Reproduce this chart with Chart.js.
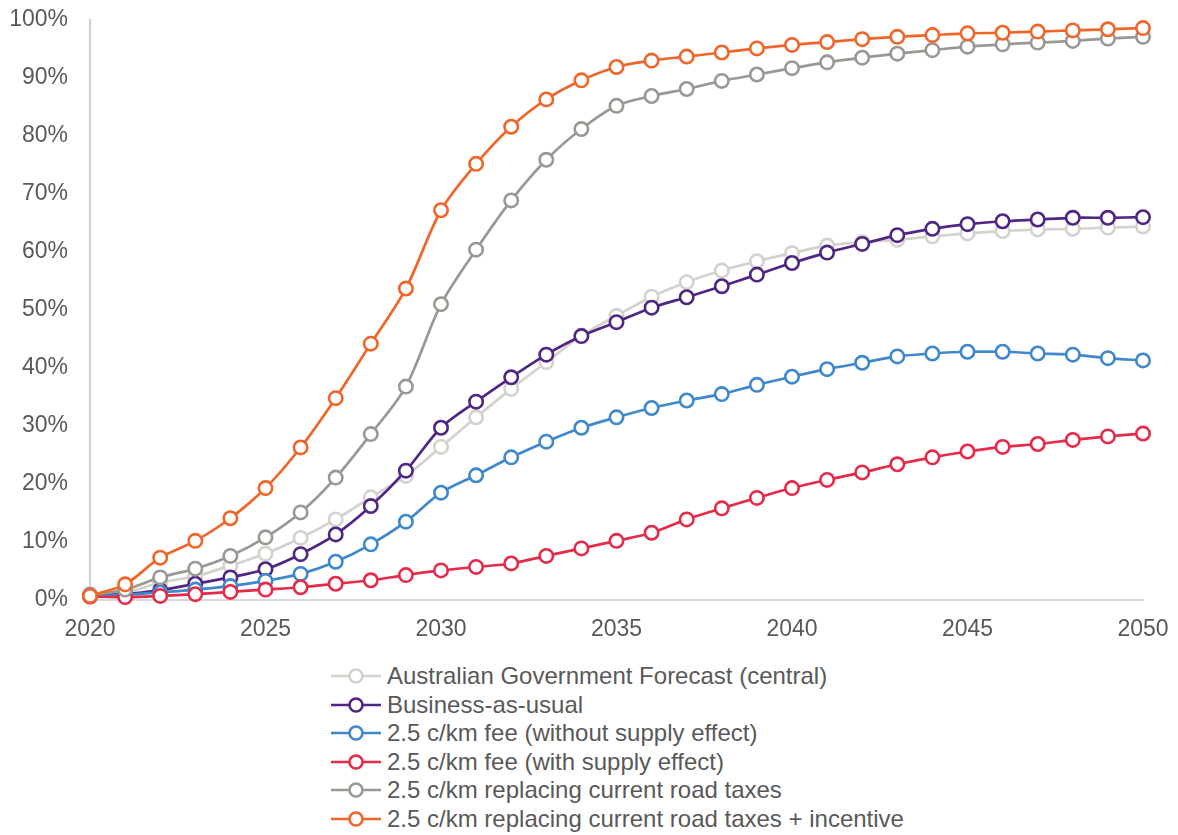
<!DOCTYPE html>
<html>
<head>
<meta charset="utf-8">
<script src="https://cdn.jsdelivr.net/npm/chart.js@4"></script>
<style>
  body { margin: 0; background: #fff; font-family: 'Liberation Sans', Arial, sans-serif; }
  #wrap { position: relative; width: 1178px; height: 835px; }
  #chart { position: absolute; left: 0; top: 0; }
  #legend { position: absolute; left: 331px; top: 662px; color: #595959; font-size: 24px; }
  .item { display: flex; align-items: center; height: 28.5px; white-space: nowrap; }
  .item svg { margin-right: 6px; }
</style>
</head>
<body>
<div id="wrap">
  <canvas id="chart" width="1178" height="655"></canvas>
  <div id="legend"></div>
</div>
<script>
// years on the x axis
const years = [];
for (let y = 2020; y <= 2050; y++) years.push(String(y));

const seriesNames = [
  'Australian Government Forecast (central)',
  'Business-as-usual',
  '2.5 c/km fee (without supply effect)',
  '2.5 c/km fee (with supply effect)',
  '2.5 c/km replacing current road taxes',
  '2.5 c/km replacing current road taxes + incentive'
];
const seriesColors = ['#d5d1cc', '#4f2683', '#3f88cc', '#e52a4a', '#9b9894', '#f0662a'];

// share of new vehicle sales, percent
const govForecast = [1.0, 1.3, 3.0, 4.1, 5.9, 8.0, 10.7, 13.9, 17.7, 21.4, 26.4, 31.5, 36.4, 41.0, 45.6, 49.0, 52.3, 54.8, 56.8, 58.4, 59.8, 61.1, 61.7, 62.1, 62.7, 63.2, 63.6, 63.9, 64.0, 64.2, 64.4];
const businessAsUsual = [0.8, 1.0, 1.7, 2.8, 3.9, 5.3, 7.9, 11.3, 16.2, 22.3, 29.7, 34.2, 38.4, 42.3, 45.5, 47.9, 50.4, 52.2, 54.1, 56.1, 58.1, 59.9, 61.4, 62.9, 64.0, 64.8, 65.3, 65.6, 65.9, 65.9, 66.0];
const feeNoSupply = [0.7, 0.9, 1.3, 1.8, 2.4, 3.3, 4.5, 6.6, 9.6, 13.5, 18.5, 21.5, 24.6, 27.3, 29.7, 31.5, 33.1, 34.4, 35.5, 37.1, 38.5, 39.8, 40.9, 42.0, 42.5, 42.8, 42.8, 42.5, 42.3, 41.7, 41.3];
const feeWithSupply = [0.6, 0.5, 0.7, 1.0, 1.4, 1.8, 2.2, 2.8, 3.4, 4.3, 5.1, 5.7, 6.3, 7.6, 8.9, 10.2, 11.6, 13.9, 15.8, 17.6, 19.3, 20.7, 22.0, 23.4, 24.6, 25.6, 26.4, 26.9, 27.6, 28.2, 28.7];
const replacingTaxes = [0.8, 1.8, 3.9, 5.4, 7.6, 10.8, 15.1, 21.1, 28.6, 36.8, 51.0, 60.4, 68.9, 75.9, 81.2, 85.2, 86.9, 88.1, 89.5, 90.6, 91.7, 92.7, 93.5, 94.2, 94.8, 95.4, 95.8, 96.1, 96.4, 96.8, 97.1];
const replacingIncentive = [0.7, 2.7, 7.3, 10.2, 14.1, 19.3, 26.3, 34.8, 44.2, 53.7, 67.2, 75.2, 81.6, 86.3, 89.6, 91.9, 93.0, 93.7, 94.4, 95.1, 95.7, 96.2, 96.7, 97.1, 97.4, 97.7, 97.8, 98.0, 98.2, 98.4, 98.6];

const yTicks = [0, 10, 20, 30, 40, 50, 60, 70, 80, 90, 100];

const allSeries = [govForecast, businessAsUsual, feeNoSupply, feeWithSupply, replacingTaxes, replacingIncentive];

const datasets = allSeries.map((data, i) => ({
  label: seriesNames[i],
  data: data,
  borderColor: seriesColors[i],
  backgroundColor: '#ffffff',
  pointBackgroundColor: '#ffffff',
  pointBorderColor: seriesColors[i],
  borderWidth: 2.7,
  pointBorderWidth: 2.6,
  pointRadius: 6.7,
  tension: 0.3,
  clip: false,
  order: allSeries.length - i   // later series drawn on top, like the original
}));

Chart.defaults.font.family = "'Liberation Sans', Arial, sans-serif";
Chart.defaults.color = '#595959';

new Chart(document.getElementById('chart'), {
  type: 'line',
  data: { labels: years, datasets: datasets },
  options: {
    responsive: false,
    animation: false,
    layout: { padding: { top: 20, right: 35, left: 0, bottom: 0 } },
    plugins: { legend: { display: false }, tooltip: { enabled: false } },
    scales: {
      x: {
        offset: false,
        // tick marks are hidden; tickLength only spaces the labels from the axis
        grid: { display: false, drawTicks: true, tickLength: 14 },
        border: { display: true, color: '#d9d9d9', width: 2 },
        ticks: {
          autoSkip: false,
          maxRotation: 0,
          padding: 2,
          font: { size: 23 },
          callback: function (v, i) { return (2020 + i) % 5 === 0 ? years[i] : ''; }
        },
        afterFit: function (s) { s.height = 55; }
      },
      y: {
        min: 0,
        max: 100,
        grid: { display: false, drawTicks: true, tickLength: 20 },
        border: { display: true, color: '#d0d0d0', width: 2 },
        afterBuildTicks: function (s) { s.ticks = yTicks.map(v => ({ value: v })); },
        ticks: {
          padding: 2,
          font: { size: 23 },
          callback: function (v) { return v + '%'; }
        },
        afterFit: function (s) { s.width = 90; }
      }
    }
  }
});

// vertical legend below the plot
const legend = document.getElementById('legend');
seriesNames.forEach((name, i) => {
  const row = document.createElement('div');
  row.className = 'item';
  row.innerHTML =
    '<svg width="50" height="18"><line x1="0" y1="9" x2="50" y2="9" stroke="' + seriesColors[i] +
    '" stroke-width="2.7"/><circle cx="25" cy="9" r="6.5" fill="#fff" stroke="' + seriesColors[i] +
    '" stroke-width="2.6"/></svg><span>' + name + '</span>';
  legend.appendChild(row);
});
</script>
</body>
</html>
